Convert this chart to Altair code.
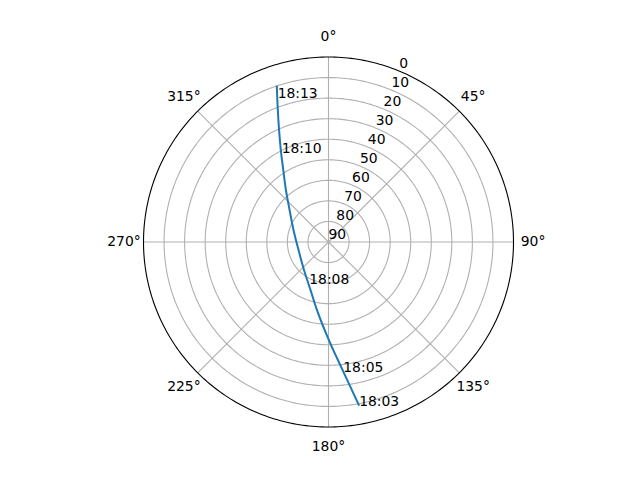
import altair as alt
import pandas as pd

# ---- data ----
ring_elev = [0, 10, 20, 30, 40, 50, 60, 70, 80, 90]
spoke_az = [0, 45, 90, 135, 180, 225, 270, 315]
spoke_labels = ["0°", "45°", "90°", "135°", "180°", "225°", "270°", "315°"]

track_az = [169.4, 173.4, 179.1, 189.6, 200.6, 221.2, 255.1, 288.9, 309.4,
            320.7, 327.9, 332.6, 336.2, 339.0, 341.7]
track_el = [9.0, 26.3, 40.9, 56.4, 65.1, 71.9, 74.9, 72.0, 65.5,
            57.3, 48.6, 39.6, 30.4, 21.2, 9.9]

time_labels = ["18:03", "18:05", "18:08", "18:10", "18:13"]
time_az = [169.4, 173.5, 204.6, 332.3, 340.5]
time_el = [9.0, 26.5, 67.5, 41.0, 15.9]

R_PX = 185
FONT = "DejaVu Sans"
FS = 13.9
GRID_W = 1.1
LINE_W = 2.0

xs = alt.Scale(domain=[-90, 90], nice=False, zero=False)
ys = alt.Scale(domain=[-90, 90], nice=False, zero=False)

rings_df = pd.DataFrame({"elev": ring_elev})
spokes_df = pd.DataFrame({"az": spoke_az, "label": spoke_labels})
track_df = pd.DataFrame({"i": list(range(len(track_az))), "az": track_az, "el": track_el})
times_df = pd.DataFrame({"label": time_labels, "az": time_az, "el": time_el})

def X(f):
    return alt.X(f, type="quantitative", scale=xs, axis=None)

def Y(f):
    return alt.Y(f, type="quantitative", scale=ys, axis=None)

def ring_layer(elev, color):
    return alt.Chart(alt.sequence(0, 361, 1, as_="a")).transform_calculate(
        x=f"(90 - {elev}) * sin(datum.a * PI / 180)",
        y=f"(90 - {elev}) * cos(datum.a * PI / 180)",
    ).mark_line(color=color, strokeWidth=GRID_W).encode(
        x=X("x"), y=Y("y"), order="a:Q"
    )

ring_layers = [ring_layer(e, "#b0b0b0") for e in ring_elev if 0 < e < 90]
outer = ring_layer(0, "black")

spokes = alt.Chart(spokes_df).transform_calculate(
    x0="0", y0="0",
    x1="90 * sin(datum.az * PI / 180)",
    y1="90 * cos(datum.az * PI / 180)",
).mark_rule(color="#b0b0b0", strokeWidth=GRID_W).encode(
    x=X("x0"), y=Y("y0"), x2="x1:Q", y2="y1:Q"
)

theta_text = alt.Chart(spokes_df).transform_calculate(
    x="99.5 * sin(datum.az * PI / 180)",
    y="99.5 * cos(datum.az * PI / 180)",
).mark_text(font=FONT, fontSize=FS, align="center", baseline="middle", color="black").encode(
    x=X("x"), y=Y("y"), text="label:N"
)

ring_text = alt.Chart(rings_df).transform_calculate(
    x="(90 - datum.elev) * sin(22.5 * PI / 180)",
    y="(90 - datum.elev) * cos(22.5 * PI / 180)",
).mark_text(font=FONT, fontSize=FS, align="left", baseline="bottom", color="black").encode(
    x=X("x"), y=Y("y"), text="elev:N"
)

track = alt.Chart(track_df).transform_calculate(
    x="(90 - datum.el) * sin(datum.az * PI / 180)",
    y="(90 - datum.el) * cos(datum.az * PI / 180)",
).mark_line(color="#1f77b4", strokeWidth=LINE_W, interpolate="catmull-rom").encode(
    x=X("x"), y=Y("y"), order="i:Q"
)

time_text = alt.Chart(times_df).transform_calculate(
    x="(90 - datum.el) * sin(datum.az * PI / 180)",
    y="(90 - datum.el) * cos(datum.az * PI / 180)",
).mark_text(font=FONT, fontSize=FS, align="left", baseline="alphabetic", color="black").encode(
    x=X("x"), y=Y("y"), text="label:N"
)

chart = alt.layer(*ring_layers, spokes, outer, track, ring_text, theta_text, time_text).properties(
    width=2 * R_PX, height=2 * R_PX,
    autosize=alt.AutoSizeParams(type="none"),
    padding={"left": 135.5, "top": 49, "right": 118.5, "bottom": 45},
).configure_view(stroke=None)

chart.save("out.html", embed_options={"renderer": "svg", "actions": False})
